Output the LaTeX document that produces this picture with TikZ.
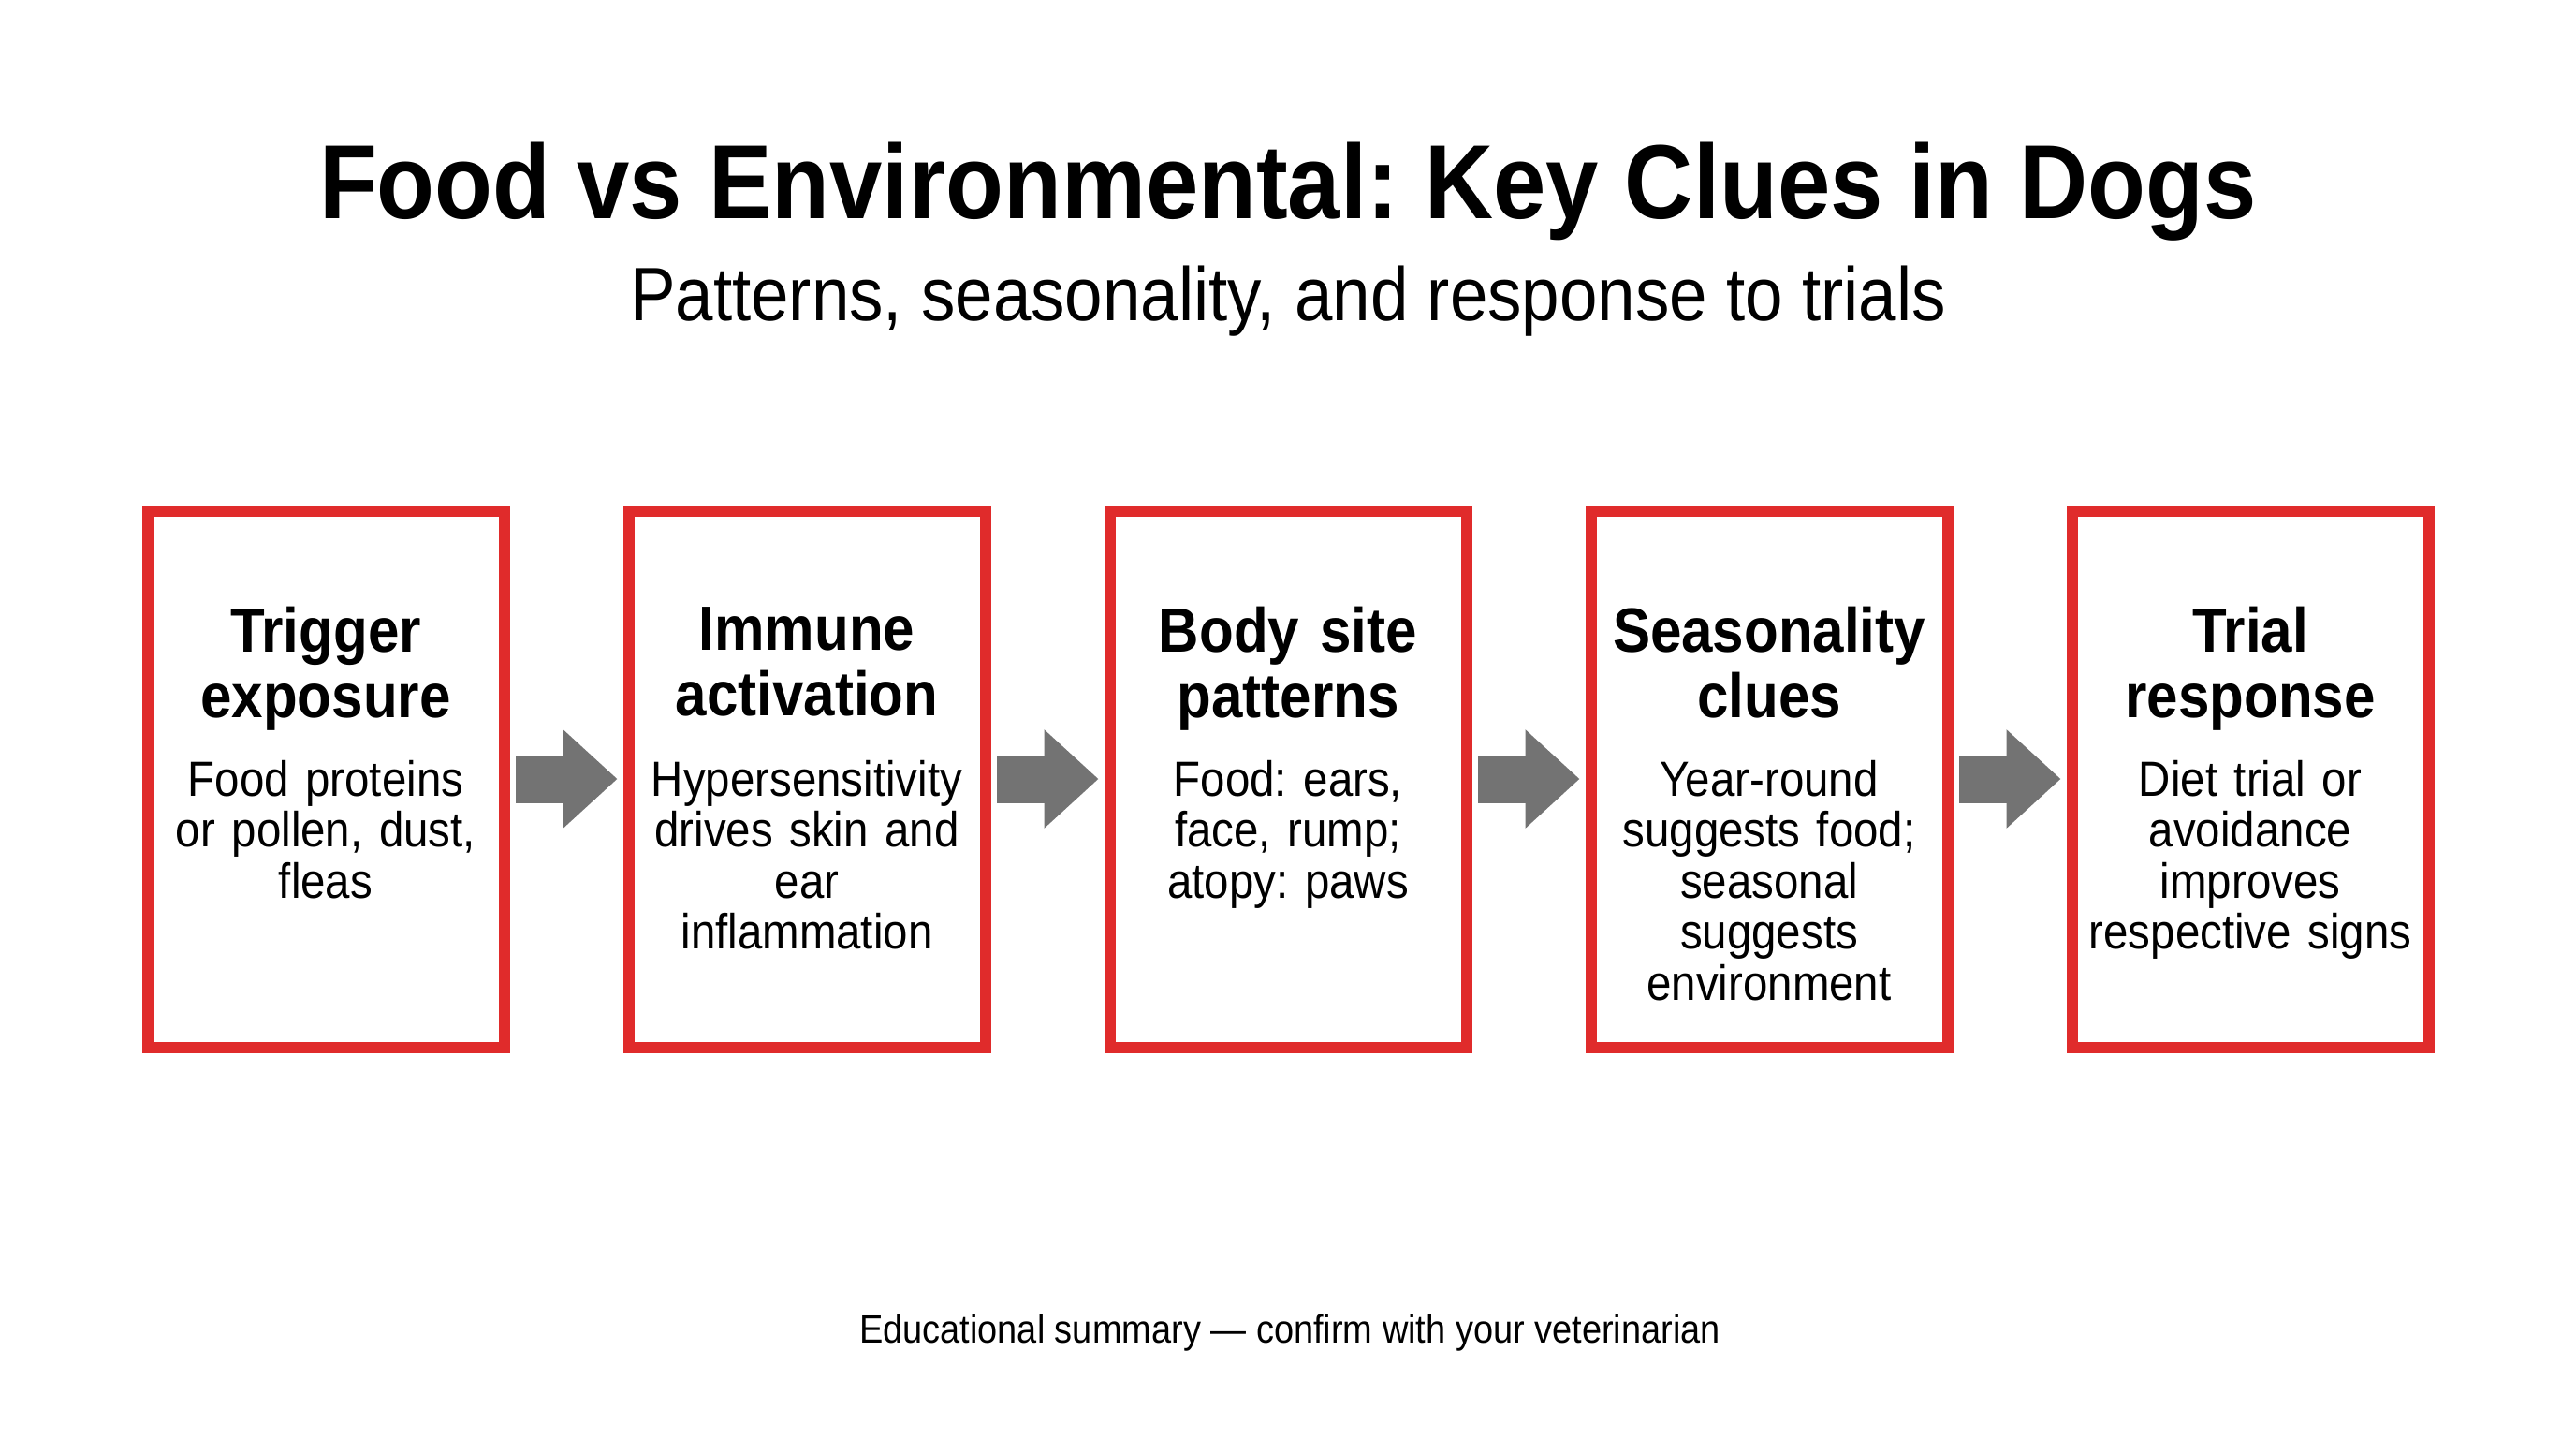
\documentclass[tikz,border=0pt]{standalone}
\usepackage{fontspec}
\setmainfont{Liberation Sans}[FakeStretch=0.9]
\frenchspacing
\usetikzlibrary{positioning,arrows.meta}
\definecolor{boxred}{HTML}{E02B2B}
\definecolor{flowgray}{HTML}{737373}
\tikzset{
  stage/.style={draw=boxred, line width=0.12cm, fill=white, minimum width=3.81cm, minimum height=5.73cm, inner sep=0pt},
  head/.style={align=center, text width=3.8cm, inner sep=0pt, font=\bfseries\fontsize{19}{19.9}\selectfont},
  body/.style={align=center, text width=3.8cm, inner sep=0pt, font=\fontsize{15}{15.5}\selectfont},
  flow/.style={draw=flowgray, line width=0.51cm, -{Triangle[length=0.58cm,width=1.02cm]}}
}
\begin{document}
\begin{tikzpicture}
\useasboundingbox[fill=white] (0,0) rectangle (27.52,-15.36);
\node[anchor=base, font=\bfseries\fontsize{32}{36}\selectfont] (title) at (13.76,-2.33) {Food vs Environmental: Key Clues in Dogs};
\node[anchor=base, font=\fontsize{23}{27}\selectfont] (subtitle) at (13.76,-3.42) {Patterns, seasonality, and response to trials};
% stages
\node[stage] (b1) at (3.48,-8.32) {};
\node[stage] (b2) at (8.62,-8.32) {};
\node[stage] (b3) at (13.76,-8.32) {};
\node[stage] (b4) at (18.90,-8.32) {};
\node[stage] (b5) at (24.04,-8.32) {};
\node[head, below=1.08cm of b1.north] (h1) {Trigger\\exposure};
\node[head, below=1.08cm of b2.north] (h2) {Immune\\activation};
\node[head, below=1.08cm of b3.north] (h3) {Body site\\patterns};
\node[head, below=1.08cm of b4.north] (h4) {Seasonality\\clues};
\node[head, below=1.08cm of b5.north] (h5) {Trial\\response};
\node[body, below=2.72cm of b1.north] (t1) {Food proteins\\or pollen, dust,\\fleas};
\node[body, below=2.72cm of b2.north] (t2) {Hypersensitivity\\drives skin and\\ear\\inflammation};
\node[body, below=2.72cm of b3.north] (t3) {Food: ears,\\face, rump;\\atopy: paws};
\node[body, below=2.72cm of b4.north] (t4) {Year-round\\suggests food;\\seasonal\\suggests\\environment};
\node[body, below=2.72cm of b5.north] (t5) {Diet trial or\\avoidance\\improves\\respective signs};
% arrows
\draw[flow] ([xshift=0.06cm]b1.east) -- ([xshift=-0.06cm]b2.west);
\draw[flow] ([xshift=0.06cm]b2.east) -- ([xshift=-0.06cm]b3.west);
\draw[flow] ([xshift=0.06cm]b3.east) -- ([xshift=-0.06cm]b4.west);
\draw[flow] ([xshift=0.06cm]b4.east) -- ([xshift=-0.06cm]b5.west);
\node[anchor=base, font=\fontsize{12}{14}\selectfont] (note) at (13.78,-14.34) {Educational summary — confirm with your veterinarian};
\end{tikzpicture}
\end{document}
